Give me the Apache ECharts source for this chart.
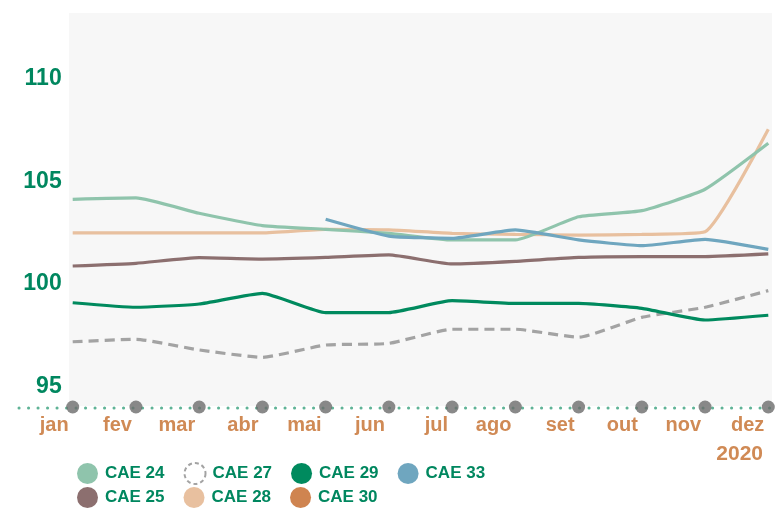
<!DOCTYPE html>
<html>
<head>
<meta charset="utf-8">
<script src="https://cdn.jsdelivr.net/npm/echarts@6/dist/echarts.min.js"></script>
<style>
html,body{margin:0;padding:0;background:#fff;}
#c{width:775px;height:509px;}
</style>
</head>
<body>
<div id="c"></div>
<script>
const months = ['jan','fev','mar','abr','mai','jun','jul','ago','set','out','nov','dez'];
const yearLabel = '2020';
const yTicks = [95, 100, 105, 110];
const cae24 = [104.12,104.19,103.44,102.84,102.66,102.46,102.14,102.14,103.27,103.57,104.61,106.85];
const cae25 = [100.87,101.0,101.28,101.21,101.29,101.41,100.97,101.1,101.29,101.33,101.33,101.46];
const cae27 = [97.18,97.3,96.78,96.42,97.02,97.1,97.79,97.79,97.4,98.37,98.86,99.67];
const cae28 = [102.49,102.49,102.49,102.49,102.66,102.63,102.46,102.41,102.38,102.41,102.54,107.53];
const cae29 = [99.08,98.86,99.02,99.54,98.6,98.6,99.18,99.05,99.05,98.81,98.24,98.47];
const cae30 = [];
const cae33 = ['-','-','-','-',103.15,102.33,102.22,102.63,102.14,101.86,102.17,101.68];

const Y_MIN = 94, Y_MAX = 113.2;
const FONT = '"Liberation Sans", Arial, sans-serif';
const GREEN_TXT = '#00875f';
const ORANGE_TXT = '#d08a55';

const chart = echarts.init(document.getElementById('c'), null, {renderer:'canvas'});

function lineSeries(name, data, color, dashed, z) {
  return {
    name, type:'line', data, showSymbol:false, symbol:'none', smooth:0.15,
    color, z: z || 3,
    lineStyle:{color, width:3.2, type: dashed ? [10,6] : 'solid', cap:'butt'},
    emphasis:{disabled:true}
  };
}

const legendText = {color:GREEN_TXT, fontFamily:FONT, fontWeight:'bold', fontSize:17, padding:[0,0,0,2]};

const option = {
  backgroundColor:'#ffffff',
  animation:false,
  grid:{left:72.7, right:6.7, top:13, bottom:102, containLabel:false},
  graphic:[
    {type:'rect', z:-10, shape:{x:69, y:13, width:703, height:393}, style:{fill:'#f7f7f7'}},
    {type:'line', z:1, shape:{x1:19, y1:408, x2:772, y2:408},
     style:{stroke:'#5fb396', lineWidth:3, lineDash:[0.1,9.4], lineCap:'round'}},
    {type:'text', right:12, top:444, style:{text:yearLabel, fill:ORANGE_TXT, font:'bold 21px ' + FONT}}
  ],
  xAxis:{
    type:'category', data:months, boundaryGap:false,
    axisLine:{show:false}, axisTick:{show:false}, splitLine:{show:false},
    axisLabel:{color:ORANGE_TXT, fontFamily:FONT, fontWeight:'bold', fontSize:20, align:'right', margin:8, padding:[0,4,0,0], interval:0}
  },
  yAxis:{
    type:'value', min:Y_MIN, max:Y_MAX, interval:1,
    axisLine:{show:false}, axisTick:{show:false}, splitLine:{show:false},
    axisLabel:{color:GREEN_TXT, fontFamily:FONT, fontWeight:'bold', fontSize:23, margin:11,
      showMinLabel:true, showMaxLabel:false,
      formatter:function(v){ return yTicks.indexOf(v) >= 0 ? String(v) : ''; }}
  },
  legend:[
    {left:77, top:462, padding:0, itemWidth:21, itemHeight:21, itemGap:19, icon:'circle', textStyle:legendText,
     selectedMode:false,
     data:['CAE 24', {name:'CAE 27', itemStyle:{color:'#ffffff', borderColor:'#a3a3a3', borderWidth:2, borderType:[4,3]}}, 'CAE 29', 'CAE 33']},
    {left:77, top:487, padding:0, itemWidth:21, itemHeight:21, itemGap:19, icon:'circle', textStyle:legendText,
     selectedMode:false,
     data:['CAE 25', 'CAE 28', 'CAE 30']}
  ],
  series:[
    lineSeries('CAE 27', cae27, '#a3a3a3', true, 3),
    lineSeries('CAE 29', cae29, '#008a5e', false, 4),
    lineSeries('CAE 25', cae25, '#8c6f6f', false, 4),
    lineSeries('CAE 28', cae28, '#e8c09f', false, 5),
    lineSeries('CAE 24', cae24, '#8fc4ac', false, 6),
    lineSeries('CAE 33', cae33, '#6fa6bf', false, 7),
    lineSeries('CAE 30', cae30, '#cf8450', false, 3),
    {name:'axisDots', type:'scatter', data:months.map(function(m){return [m, Y_MIN];}),
     symbolSize:13, clip:false, z:10, itemStyle:{color:'#6b6b6b'}, silent:true}
  ]
};
chart.setOption(option);
</script>
</body>
</html>
